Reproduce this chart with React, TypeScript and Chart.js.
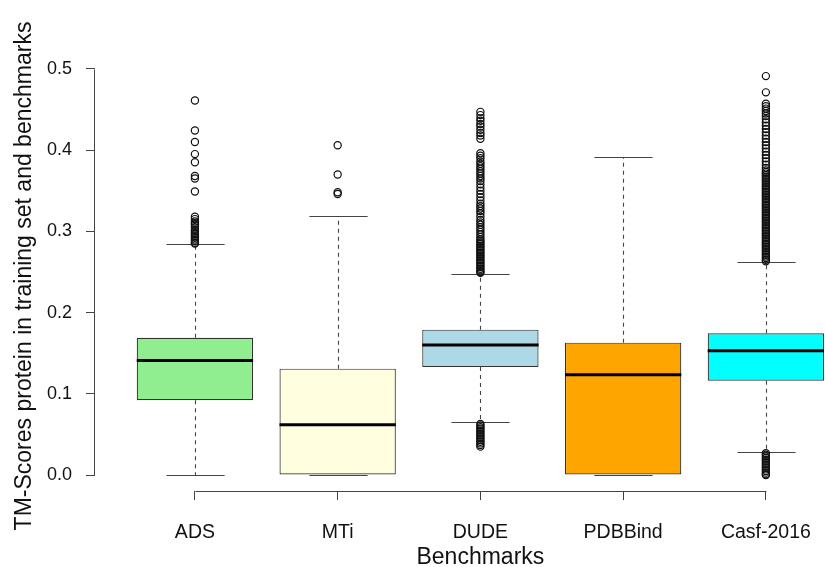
import React, { useEffect, useRef } from "react";
import { Chart, registerables } from "chart.js";

Chart.register(...registerables);

// ---------------- data ----------------
const categories = ["ADS", "MTi", "DUDE", "PDBBind", "Casf-2016"];
const boxColors = ["#90EE90", "#FFFFE0", "#ADD8E6", "#FFA500", "#00FFFF"];

const lowerWhisker = [0.0, 0.0, 0.065, 0.0, 0.029];
const q1 = [0.092, 0.0, 0.133, 0.0, 0.116];
const median = [0.141, 0.062, 0.16, 0.1235, 0.153];
const q3 = [0.169, 0.131, 0.179, 0.163, 0.1745];
const upperWhisker = [0.284, 0.319, 0.248, 0.391, 0.262];

const yTicks = [0.0, 0.1, 0.2, 0.3, 0.4, 0.5];
const xTicks = [1, 2, 3, 4, 5];

const adsOutliers = [
  0.461, 0.424, 0.41, 0.395, 0.385, 0.368, 0.365, 0.349, 0.318, 0.315, 0.312,
  0.31, 0.308, 0.305, 0.302, 0.3, 0.298, 0.296, 0.294, 0.292, 0.29, 0.288,
  0.286, 0.285,
];
const mtiOutliers = [0.406, 0.37, 0.348, 0.346];
const dudeOutliers = [
  0.447, 0.443, 0.439, 0.436, 0.432, 0.429, 0.425, 0.421, 0.418, 0.414, 0.396,
  0.393, 0.39, 0.386, 0.383, 0.38, 0.377, 0.374, 0.371, 0.368, 0.365, 0.362,
  0.358, 0.354, 0.35, 0.346, 0.342, 0.338, 0.334, 0.331, 0.328, 0.325, 0.322,
  0.318, 0.314, 0.311, 0.308, 0.305, 0.302, 0.299, 0.296, 0.293, 0.29, 0.288,
  0.286, 0.284, 0.282, 0.28, 0.278, 0.276, 0.274, 0.272, 0.27, 0.268, 0.266,
  0.264, 0.262, 0.26, 0.258, 0.256, 0.254, 0.252, 0.25, 0.249, 0.063, 0.061,
  0.059, 0.057, 0.055, 0.053, 0.051, 0.049, 0.047, 0.045, 0.043, 0.041, 0.039,
  0.037, 0.035,
];
const pdbOutliers: number[] = [];
const casfOutliers = [
  0.491, 0.471, 0.457, 0.454, 0.451, 0.448, 0.445, 0.442, 0.438, 0.434, 0.43,
  0.426, 0.422, 0.418, 0.414, 0.41, 0.406, 0.402, 0.398, 0.394, 0.39, 0.386,
  0.382, 0.378, 0.375, 0.373, 0.371, 0.369, 0.367, 0.365, 0.363, 0.361, 0.359,
  0.357, 0.355, 0.353, 0.351, 0.349, 0.347, 0.345, 0.343, 0.341, 0.339, 0.337,
  0.335, 0.333, 0.331, 0.329, 0.327, 0.325, 0.323, 0.321, 0.319, 0.317, 0.315,
  0.313, 0.311, 0.309, 0.307, 0.305, 0.303, 0.301, 0.299, 0.297, 0.295, 0.293,
  0.291, 0.289, 0.287, 0.285, 0.283, 0.281, 0.279, 0.277, 0.275, 0.273, 0.271,
  0.269, 0.267, 0.265, 0.263, 0.027, 0.025, 0.023, 0.021, 0.019, 0.017, 0.015,
  0.013, 0.011, 0.009, 0.007, 0.005, 0.003, 0.001, 0.0,
];
const outlierSets = [adsOutliers, mtiOutliers, dudeOutliers, pdbOutliers, casfOutliers];

const FONT = "'Liberation Sans', Arial, Helvetica, sans-serif";

const boxPlugin = {
  id: "rBoxplot",
  afterDatasetDraw(chart: any, args: any) {
    if (args.meta.type !== "bar") return;
    const ctx = chart.ctx;
    const xs = chart.scales.x;
    const ys = chart.scales.y;
    ctx.save();
    args.meta.data.forEach((bar: any, i: number) => {
      const cx = Math.round(xs.getPixelForValue(i + 1)) + 0.5;
      const half = bar.width / 2;
      const staple = half / 2;
      const yUp = Math.round(ys.getPixelForValue(upperWhisker[i])) + 0.5;
      const yLo = Math.round(ys.getPixelForValue(lowerWhisker[i])) + 0.5;
      const yQ1 = ys.getPixelForValue(q1[i]);
      const yQ3 = ys.getPixelForValue(q3[i]);
      const yMed = ys.getPixelForValue(median[i]);
      // dashed whiskers
      ctx.strokeStyle = "#444";
      ctx.lineWidth = 1.1;
      ctx.setLineDash([4, 4]);
      ctx.beginPath();
      ctx.moveTo(cx, yQ3);
      ctx.lineTo(cx, yUp);
      if (yLo > yQ1 + 0.5) {
        ctx.moveTo(cx, yQ1);
        ctx.lineTo(cx, yLo);
      }
      ctx.stroke();
      ctx.setLineDash([]);
      // staples
      ctx.beginPath();
      ctx.moveTo(cx - staple, yUp);
      ctx.lineTo(cx + staple, yUp);
      ctx.moveTo(cx - staple, yLo);
      ctx.lineTo(cx + staple, yLo);
      ctx.stroke();
      // median
      ctx.strokeStyle = "#000";
      ctx.lineWidth = 3;
      ctx.beginPath();
      ctx.moveTo(bar.x - half, yMed);
      ctx.lineTo(bar.x + half, yMed);
      ctx.stroke();
    });
    ctx.restore();
  },
  afterDraw(chart: any) {
    const ctx = chart.ctx;
    const xs = chart.scales.x;
    const ys = chart.scales.y;
    const area = chart.chartArea;
    ctx.save();
    ctx.strokeStyle = "#444";
    ctx.lineWidth = 1;
    ctx.beginPath();
    const lx = Math.round(area.left) - 0.5;
    ctx.moveTo(lx, Math.round(ys.getPixelForValue(yTicks[0])) + 0.5);
    ctx.lineTo(lx, Math.round(ys.getPixelForValue(yTicks[yTicks.length - 1])) + 0.5);
    const by = Math.round(area.bottom) + 0.5;
    ctx.moveTo(Math.round(xs.getPixelForValue(xTicks[0])) + 0.5, by);
    ctx.lineTo(Math.round(xs.getPixelForValue(xTicks[xTicks.length - 1])) + 0.5, by);
    ctx.stroke();
    ctx.restore();
  },
};

export default function App() {
  const ref = useRef<HTMLCanvasElement | null>(null);

  useEffect(() => {
    if (!ref.current) return;
    const outlierData: { x: number; y: number }[] = [];
    outlierSets.forEach((set, i) => set.forEach((v) => outlierData.push({ x: i + 1, y: v })));

    const chart = new Chart(ref.current, {
      type: "bar",
      data: {
        datasets: [
          {
            type: "bar",
            order: 2,
            data: categories.map((_, i) => ({ x: i + 1, y: [q1[i], q3[i]] })) as any,
            backgroundColor: boxColors,
            borderColor: "#333",
            borderWidth: 1.2,
            borderSkipped: false,
            categoryPercentage: 1,
            barPercentage: 0.815,
          } as any,
          {
            type: "scatter",
            order: 1,
            data: outlierData,
            pointStyle: "circle",
            pointRadius: 3.6,
            pointBorderWidth: 1.2,
            pointBorderColor: "#111",
            pointBackgroundColor: "rgba(0,0,0,0)",
            showLine: false,
          } as any,
        ],
      },
      options: {
        animation: false,
        responsive: false,
        devicePixelRatio: 1,
        events: [],
        layout: { padding: { top: 61, left: 0, right: 0, bottom: 0 } },
        plugins: { legend: { display: false }, tooltip: { enabled: false } },
        scales: {
          x: {
            type: "linear",
            min: 0.3,
            max: 5.7,
            offset: false,
            afterBuildTicks: (s: any) => {
              s.ticks = xTicks.map((v) => ({ value: v }));
            },
            afterFit: (s: any) => {
              s.height = 76;
            },
            grid: {
              offset: false,
              drawOnChartArea: false,
              drawTicks: true,
              tickLength: 9,
              color: "#444",
            },
            border: { display: false },
            ticks: {
              autoSkip: false,
              maxRotation: 0,
              padding: 21,
              color: "#111",
              font: { family: FONT, size: 19.5 },
              callback: (v: any) => categories[Math.round(Number(v)) - 1] ?? "",
            },
            title: {
              display: true,
              text: "Benchmarks",
              color: "#111",
              font: { family: FONT, size: 23, lineHeight: 0.8 },
              padding: { top: 0, bottom: 0 },
            },
          },
          y: {
            type: "linear",
            min: -0.0196,
            max: 0.5096,
            afterBuildTicks: (s: any) => {
              s.ticks = yTicks.map((v) => ({ value: v }));
            },
            afterFit: (s: any) => {
              s.width = 95;
            },
            grid: {
              drawOnChartArea: false,
              drawTicks: true,
              tickLength: 9,
              color: "#444",
            },
            border: { display: false },
            ticks: {
              padding: 14,
              color: "#111",
              font: { family: FONT, size: 18 },
              callback: (v: any) => Number(v).toFixed(1),
            },
            title: {
              display: true,
              text: "TM-Scores protein in training set and benchmarks",
              color: "#111",
              font: { family: FONT, size: 23, lineHeight: 1.2 },
              padding: { top: 11, bottom: 0 },
            },
          },
        },
      },
      plugins: [boxPlugin],
    });
    return () => chart.destroy();
  }, []);

  return (
    <div
      style={{
        position: "fixed",
        left: 0,
        top: 0,
        width: 825,
        height: 567,
        overflow: "hidden",
        background: "#fff",
      }}
    >
      <canvas ref={ref} width={871} height={567} style={{ width: 871, height: 567, display: "block" }} />
    </div>
  );
}
